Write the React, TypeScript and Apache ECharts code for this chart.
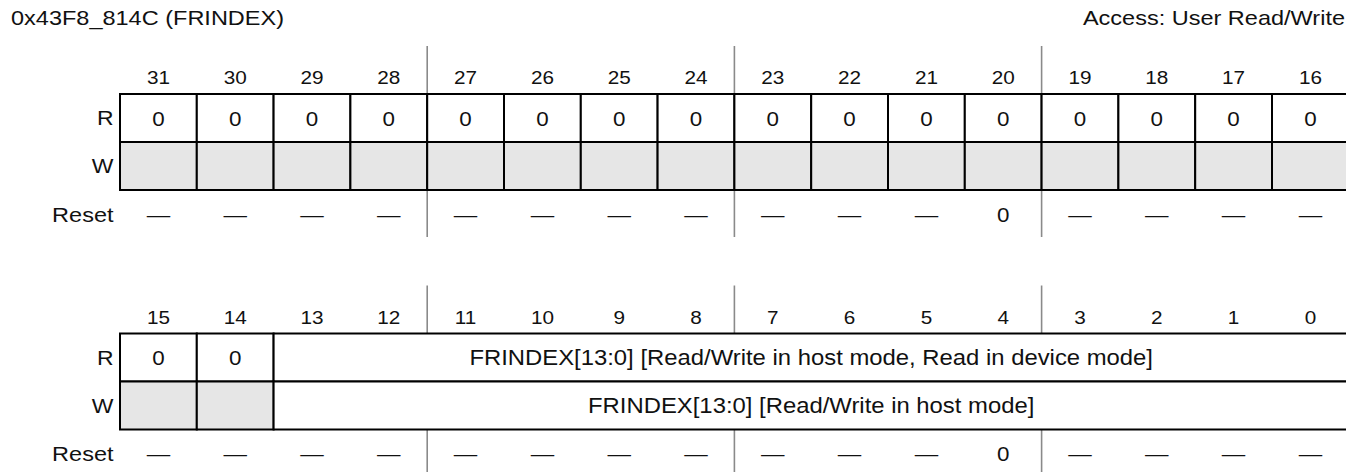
import React, { useEffect, useRef } from "react";
import * as echarts from "echarts";

// ---------- data ----------
const titleText = "0x43F8_814C (FRINDEX)";
const accessText = "Access: User Read/Write";
const rowNames = ["R", "W", "Reset"];

const bitsHigh = [31, 30, 29, 28, 27, 26, 25, 24, 23, 22, 21, 20, 19, 18, 17, 16];
const bitsLow = [15, 14, 13, 12, 11, 10, 9, 8, 7, 6, 5, 4, 3, 2, 1, 0];

type Field = { name: string; msb: number; lsb: number; reserved?: boolean };

const readHigh: Field[] = [
  { name: "0", msb: 31, lsb: 31 }, { name: "0", msb: 30, lsb: 30 },
  { name: "0", msb: 29, lsb: 29 }, { name: "0", msb: 28, lsb: 28 },
  { name: "0", msb: 27, lsb: 27 }, { name: "0", msb: 26, lsb: 26 },
  { name: "0", msb: 25, lsb: 25 }, { name: "0", msb: 24, lsb: 24 },
  { name: "0", msb: 23, lsb: 23 }, { name: "0", msb: 22, lsb: 22 },
  { name: "0", msb: 21, lsb: 21 }, { name: "0", msb: 20, lsb: 20 },
  { name: "0", msb: 19, lsb: 19 }, { name: "0", msb: 18, lsb: 18 },
  { name: "0", msb: 17, lsb: 17 }, { name: "0", msb: 16, lsb: 16 },
];
const writeHigh: Field[] = bitsHigh.map((b) => ({ name: "", msb: b, lsb: b, reserved: true }));
const resetHigh = ["—", "—", "—", "—", "—", "—", "—", "—", "—", "—", "—", "0", "—", "—", "—", "—"];

const readLow: Field[] = [
  { name: "0", msb: 15, lsb: 15 },
  { name: "0", msb: 14, lsb: 14 },
  { name: "FRINDEX[13:0] [Read/Write in host mode, Read in device mode]", msb: 13, lsb: 0 },
];
const writeLow: Field[] = [
  { name: "", msb: 15, lsb: 15, reserved: true },
  { name: "", msb: 14, lsb: 14, reserved: true },
  { name: "FRINDEX[13:0] [Read/Write in host mode]", msb: 13, lsb: 0 },
];
const resetLow = ["—", "—", "—", "—", "—", "—", "—", "—", "—", "—", "—", "0", "—", "—", "—", "—"];

const blocks = [
  { bits: bitsHigh, read: readHigh, write: writeHigh, reset: resetHigh },
  { bits: bitsLow, read: readLow, write: writeLow, reset: resetLow },
];

// ---------- layout / style ----------
const W = 1346;
const H = 472;
const FONT = "'Liberation Sans', Arial, Helvetica, sans-serif";
const SX = 1.12;
const X0 = 120;
const CW = 76.8;
const TOPS = [94, 333.5];
const RH = 48;
const INK = "#111";

type Cell = {
  kind: "rect" | "text" | "line";
  x0: number; x1: number; y0: number; y1: number;
  text?: string; fill?: string; fontSize?: number;
};

function buildCells(): Cell[] {
  const cells: Cell[] = [];
  blocks.forEach((blk, bi) => {
    const top = TOPS[bi];
    const first = blk.bits[0];
    blk.bits.forEach((b, c) => {
      cells.push({ kind: "text", x0: c, x1: c + 1, y0: top - 16.5, y1: top - 16.5, text: String(b), fontSize: 18.5 });
    });
    [blk.read, blk.write].forEach((row, ri) => {
      row.forEach((f) => {
        cells.push({
          kind: "rect",
          x0: first - f.msb,
          x1: first - f.lsb + 1,
          y0: top + ri * RH,
          y1: top + (ri + 1) * RH,
          text: f.name,
          fill: f.reserved ? "#e6e6e6" : "#ffffff",
          fontSize: f.name.length > 2 ? 21.3 : 20,
        });
      });
    });
    blk.reset.forEach((v, c) => {
      const y = top + 120.5;
      cells.push({ kind: "text", x0: c, x1: c + 1, y0: y, y1: y, text: v, fontSize: v === "—" ? 21 : 20 });
    });
    [4, 8, 12].forEach((k) => {
      cells.push({ kind: "line", x0: k, x1: k, y0: top - 48, y1: top });
      cells.push({ kind: "line", x0: k, x1: k, y0: top + 2 * RH, y1: top + 2 * RH + 47 });
    });
  });
  return cells;
}

export default function App() {
  const ref = useRef<HTMLDivElement>(null);

  useEffect(() => {
    if (!ref.current) return;
    document.body.style.margin = "0";
    document.body.style.overflow = "hidden";
    const chart = echarts.init(ref.current, undefined, { renderer: "svg", width: W, height: H });
    const cells = buildCells();
    const order = [
      ...cells.filter((c) => c.kind === "line"),
      ...cells.filter((c) => c.kind === "rect"),
      ...cells.filter((c) => c.kind === "text"),
    ];

    const textEl = (x: number, y: number, text: string, fontSize: number, align = "center") => ({
      type: "text",
      x,
      y,
      scaleX: SX,
      style: {
        text,
        fill: INK,
        fontSize,
        fontFamily: FONT,
        align,
        verticalAlign: "middle",
      },
    });

    const rowLabelGraphics: any[] = [];
    TOPS.forEach((top) => {
      rowNames.forEach((n, ri) => {
        const y = ri < 2 ? top + ri * RH + RH / 2 : top + 120.5;
        rowLabelGraphics.push(textEl(113.5, y, n, ri < 2 ? 20.5 : 21, "right"));
      });
    });

    const gridW = W - X0;
    chart.setOption({
      animation: false,
      tooltip: { show: false },
      grid: { left: X0, top: 0, width: gridW, height: H, containLabel: false },
      // the register's last column runs past the right edge of the page
      xAxis: { type: "value", min: 0, max: gridW / CW, show: false },
      yAxis: { type: "value", min: 0, max: H, inverse: true, show: false },
      graphic: [
        textEl(11, 17.5, titleText, 21, "left"),
        textEl(1345, 17.5, accessText, 21, "right"),
        ...rowLabelGraphics,
      ],
      series: [
        {
          type: "custom",
          silent: true,
          clip: false,
          data: order.map((c) => [c.x0, c.y0]),
          renderItem: (params: any, api: any) => {
            const c = order[params.dataIndex];
            const p0 = api.coord([c.x0, c.y0]);
            const p1 = api.coord([c.x1, c.y1]);
            if (c.kind === "line") {
              return {
                type: "line",
                shape: { x1: p0[0], y1: p0[1], x2: p1[0], y2: p1[1] },
                style: { stroke: "#8a8a8a", lineWidth: 1.6 },
              };
            }
            const cx = (p0[0] + p1[0]) / 2;
            const cy = (p0[1] + p1[1]) / 2;
            if (c.kind === "text") {
              return textEl(cx, cy, c.text || "", c.fontSize || 20);
            }
            const children: any[] = [
              {
                type: "rect",
                shape: { x: p0[0], y: p0[1], width: p1[0] - p0[0], height: p1[1] - p0[1] },
                style: { fill: c.fill, stroke: "#000", lineWidth: 2 },
              },
            ];
            if (c.text) children.push(textEl(cx, cy + 0.5, c.text, c.fontSize || 20));
            return { type: "group", children };
          },
        },
      ],
    });
    return () => chart.dispose();
  }, []);

  return <div ref={ref} style={{ width: W, height: H, background: "#fff" }} />;
}
